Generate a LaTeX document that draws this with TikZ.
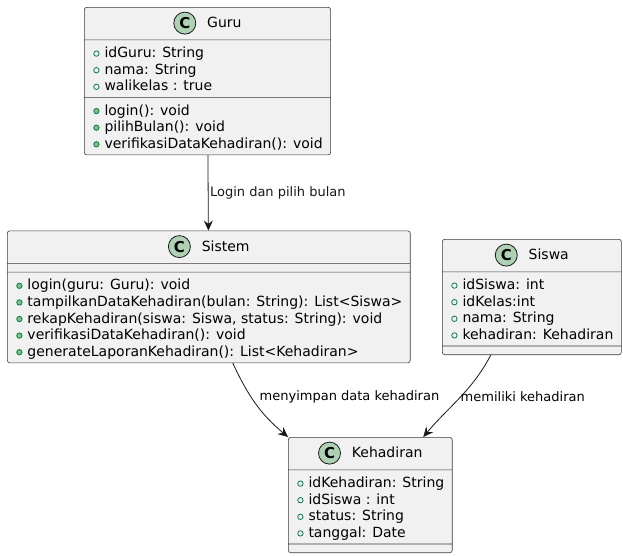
\documentclass[tikz,border=0pt]{standalone}
\usepackage{fontspec}
\setmainfont{DejaVu Sans}
\usetikzlibrary{shapes.multipart,arrows.meta}
\definecolor{umlfill}{HTML}{F1F1F1}
\definecolor{umlline}{HTML}{181818}
\definecolor{umlicon}{HTML}{ADD1B2}
\definecolor{umlgreen}{HTML}{038048}
\definecolor{umlmeth}{HTML}{84BE84}

% class header: circled C + class name
\newcommand{\chead}[1]{\rule[-8pt]{0pt}{24pt}\tikz[baseline=-4.5pt]\node[circle,anchor=center,draw=umlline,fill=umlicon,
  line width=0.8pt,minimum size=22pt,inner sep=0pt,font=\fontsize{15}{15}\selectfont\bfseries]{C};\hspace{11pt}#1}
% member rows: public field / public method
\newcommand{\rowstrut}{\rule[-2.3pt]{0pt}{15.7pt}}
\newcommand{\members}[1]{\vbox{\baselineskip=16.6pt\lineskiplimit=-100pt #1}}
\newcommand{\nomembers}{\rule{0pt}{0.1pt}\hspace*{1pt}}
\newcommand{\fld}[1]{\hbox{\rowstrut\smash{\hspace{1pt}\tikz[baseline=-4pt]\draw[umlgreen,line width=0.8pt,fill=none]
  (0,0) circle (2.7pt);\hspace{5pt}#1}}}
\newcommand{\mth}[1]{\hbox{\rowstrut\smash{\hspace{1pt}\tikz[baseline=-4pt]\draw[umlgreen,line width=0.8pt,fill=umlmeth]
  (0,0) circle (2.7pt);\hspace{5pt}#1}}}

\begin{document}
\begin{tikzpicture}[x=1pt, y=1pt,
  umlclass/.style={rectangle split, rectangle split parts=3,
                   rectangle split part align={center,left,left},
                   draw=umlline!85, fill=umlfill, line width=0.6pt,
                   rounded corners=2.5pt,
                   inner xsep=8pt, inner ysep=4pt,
                   font=\fontsize{14}{16.6}\selectfont},
  arr/.style={-{Stealth[length=10pt,width=9pt,inset=3.5pt]}, umlline, line width=0.8pt},
  lbl/.style={font=\fontsize{13}{15}\selectfont, inner sep=1.5pt, anchor=west}
]
\useasboundingbox (0,0) rectangle (623,-555);

\node[umlclass, minimum width=245pt, anchor=north west] (guru) at (84,-7)
  {\chead{Guru}
   \nodepart{two}\members{\fld{idGuru: String}\fld{nama: String}\fld{walikelas : true}}
   \nodepart{three}\members{\mth{login(): void}\mth{pilihBulan(): void}\mth{verifikasiDataKehadiran(): void}}};
\node[umlclass, minimum width=398pt, anchor=north west] (sistem) at (7,-230.5)
  {\chead{Sistem}
   \nodepart{two}\nomembers
   \nodepart{three}\members{\mth{login(guru: Guru): void}
     \mth{tampilkanDataKehadiran(bulan: String): List<Siswa>}
     \mth{rekapKehadiran(siswa: Siswa, status: String): void}
     \mth{verifikasiDataKehadiran(): void}
     \mth{generateLaporanKehadiran(): List<Kehadiran>}}};
\node[umlclass, minimum width=176pt, anchor=north west] (siswa) at (442,-239)
  {\chead{Siswa}
   \nodepart{two}\members{\fld{idSiswa: int}\fld{idKelas:int}\fld{nama: String}\fld{kehadiran: Kehadiran}}
   \nodepart{three}\nomembers};
\node[umlclass, minimum width=160pt, anchor=north west] (keh) at (288,-437)
  {\chead{Kehadiran}
   \nodepart{two}\members{\fld{idKehadiran: String}\fld{idSiswa : int}\fld{status: String}\fld{tanggal: Date}}
   \nodepart{three}\nomembers};

\draw[arr] (guru) -- node[lbl] (l1) {Login dan pilih bulan} (sistem);
\draw[arr] ([xshift=24pt]sistem.south) to[out=-65,in=140] (keh.north west);
\draw[arr] ([xshift=-41pt]siswa.south) to[out=-118,in=50] ([xshift=53pt]keh.north);

\node[lbl] (l2) at (258,-397) {menyimpan data kehadiran};
\node[lbl] (l3) at (459,-397) {memiliki kehadiran};
\end{tikzpicture}
\end{document}
